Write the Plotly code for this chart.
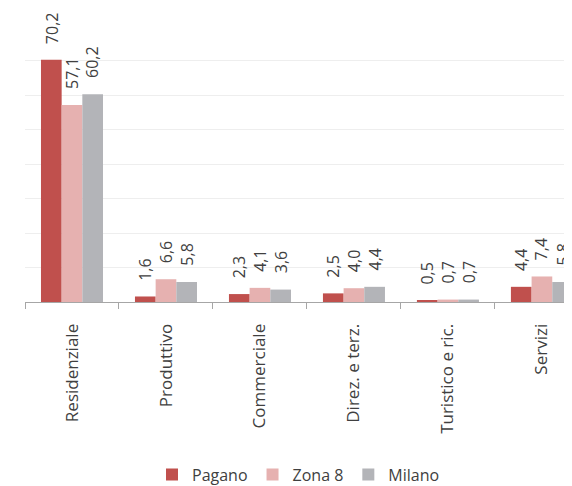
import plotly.graph_objects as go

categories = ["Residenziale", "Produttivo", "Commerciale", "Direz. e terz.", "Turistico e ric.", "Servizi"]
series_names = ["Pagano", "Zona 8", "Milano"]
pagano = [70.2, 1.6, 2.3, 2.5, 0.5, 4.4]
zona8 = [57.1, 6.6, 4.1, 4.0, 0.7, 7.4]
milano = [60.2, 5.8, 3.6, 4.4, 0.7, 5.8]
colors = ["#C0504D", "#E6B1B0", "#B3B4B8"]

FONT = "Open Sans"
TXT = "#404040"


def fmt(v):
    return f"{v:.1f}".replace(".", ",")


fig = go.Figure()
for name, vals, col in zip(series_names, [pagano, zona8, milano], colors):
    fig.add_bar(x=categories, y=vals, name=name, marker=dict(color=col, line=dict(width=0)))

# rotated value labels above each bar
offsets = [-0.22, 0.0, 0.22]
for vals, off in zip([pagano, zona8, milano], offsets):
    for i, v in enumerate(vals):
        fig.add_annotation(
            x=i + off, y=v, text=fmt(v), textangle=-90, showarrow=False,
            xanchor="center", yanchor="bottom", yshift=14,
            font=dict(family=FONT, size=16, color=TXT),
        )

# page body has an 8px margin, so the figure is a bit smaller than the window
fig.update_layout(
    width=564, height=478,
    margin=dict(l=17, r=0, t=18, b=184, autoexpand=False),
    barmode="group", bargap=0.34, bargroupgap=0,
    plot_bgcolor="white", paper_bgcolor="white",
    font=dict(family=FONT, size=15, color=TXT),
    legend=dict(orientation="h", x=0.50, xanchor="center", y=-0.625, yanchor="middle",
                font=dict(family=FONT, size=16, color=TXT), itemwidth=30,
                traceorder="normal"),
)
fig.update_xaxes(
    range=[-0.5, 5.32], tickangle=-90, showline=True, linecolor="#A6A6A6", linewidth=1,
    ticks="outside", tickson="boundaries", ticklen=6, tickcolor="#A6A6A6",
    ticklabelstandoff=14, showgrid=False,
    tickfont=dict(family=FONT, size=17, color=TXT),
)
fig.update_yaxes(
    range=[0, 80], dtick=10, showticklabels=False, showgrid=True, gridcolor="#EEEEEE",
    gridwidth=1, zeroline=False, showline=False,
)

fig.write_html("out.html")
